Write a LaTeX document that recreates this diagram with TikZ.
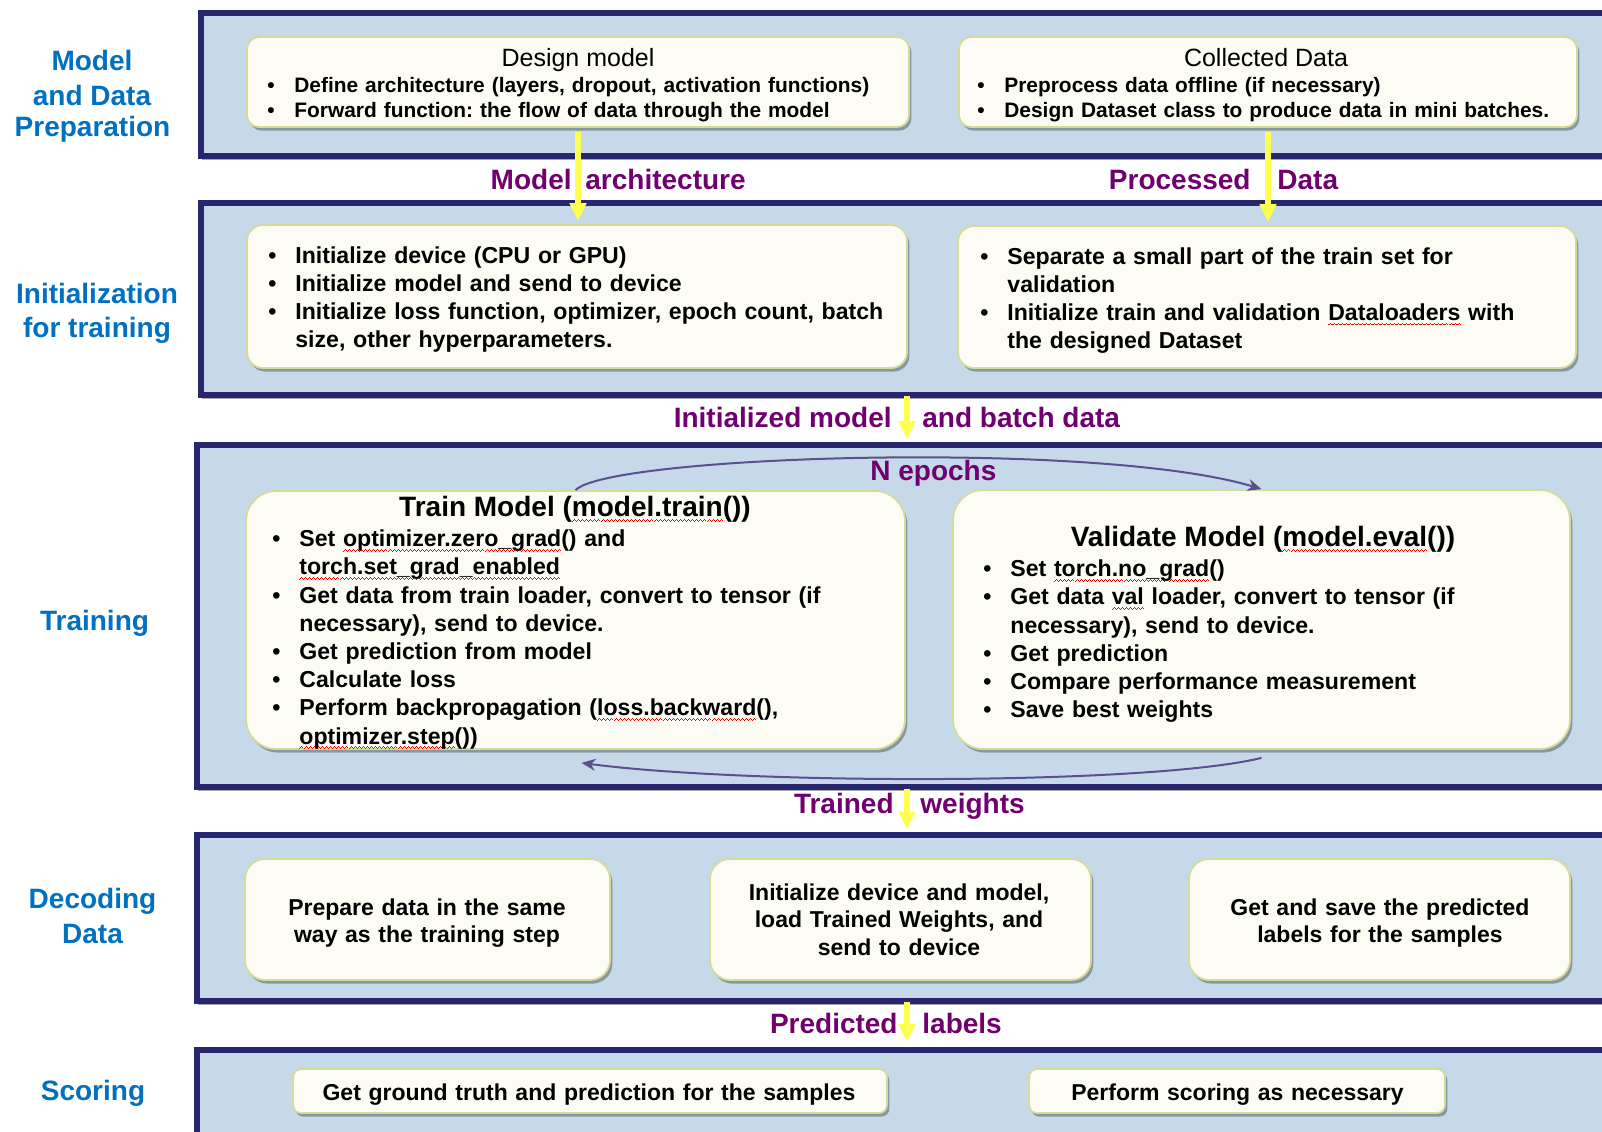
\documentclass[tikz,border=0pt]{standalone}
\usepackage{fontspec}
\setmainfont{Liberation Sans}
\usetikzlibrary{arrows.meta,shadows,fit}
\definecolor{panelfill}{HTML}{C5D9E8}
\definecolor{paneledge}{HTML}{28266E}
\definecolor{boxfill}{HTML}{FCFCF5}
\definecolor{boxedge}{HTML}{D4DC9C}
\definecolor{lblue}{HTML}{0070C0}
\definecolor{lpurple}{HTML}{700070}
\definecolor{yarr}{HTML}{FFFF50}
\definecolor{loopc}{HTML}{5A508C}
\frenchspacing
\newsavebox\sqbox
\newcommand\squig[1]{\sbox\sqbox{#1}\rlap{\color{red}\hbox to\wd\sqbox{\xleaders\hbox{\rule[-2.5pt]{0.5pt}{0.5pt}\rule[-2.05pt]{0.5pt}{0.5pt}\rule[-1.6pt]{0.5pt}{0.5pt}\rule[-2.05pt]{0.5pt}{0.5pt}}\hfill}}\usebox\sqbox}
\newcommand\bul{\makebox[13.5pt][l]{\textbullet}}
\newcommand\cind{\hspace*{13.5pt}}
\begin{document}
\begin{tikzpicture}[x=0.5pt,y=-0.5pt,
 panel/.style={draw=paneledge, line width=3pt, fill=panelfill, inner sep=0pt,
   drop shadow={shadow xshift=0.5pt, shadow yshift=-2pt, opacity=0.35, fill=black}},
 box/.style={draw=boxedge, line width=0.9pt, fill=boxfill, inner sep=0pt,
   drop shadow={shadow xshift=1.2pt, shadow yshift=-1.8pt, opacity=0.3, fill=black}},
 btxt/.style={inner sep=0pt, anchor=base west, align=left, text width=340pt,
   font=\bfseries\fontsize{11.55pt}{14.1pt}\selectfont},
 ctxt/.style={inner sep=0pt, anchor=base, align=center, text width=185pt,
   font=\bfseries\fontsize{11.5pt}{13.9pt}\selectfont},
 titlelab/.style={inner sep=0pt, anchor=base, font=\fontsize{12.5pt}{15pt}\selectfont},
 bigtitle/.style={inner sep=0pt, anchor=base, font=\bfseries\fontsize{14pt}{17pt}\selectfont},
 sidelab/.style={inner sep=0pt, anchor=base, text=lblue, font=\bfseries\fontsize{14pt}{17pt}\selectfont},
 flowlab/.style={inner sep=0pt, text=lpurple, font=\bfseries\fontsize{14pt}{17pt}\selectfont},
 yarrow/.style={draw=yarr, line width=2.6pt, -{Triangle[length=9pt,width=8pt]}},
 loopar/.style={draw=loopc, line width=1pt, -{Stealth[length=7pt,width=6pt]}}
]
\useasboundingbox (0,0) rectangle (1602,1131);
\clip (0,0) rectangle (1602,1131);
\fill[white] (0,0) rectangle (1602,1131);

% panels
\node[panel, fit={(201,13) (1700,156)}] (p1) {};
\node[panel, fit={(201,203) (1700,395)}] (p2) {};
\node[panel, fit={(197,445) (1700,787)}] (p3) {};
\node[panel, fit={(197,835) (1700,1001)}] (p4) {};
\node[panel, fit={(197,1050) (1700,1250)}] (p5) {};

% side labels
\node[sidelab] (s1a) at (92,70.7) {Model};
\node[sidelab] (s1b) at (92,105) {and Data};
\node[sidelab] (s1c) at (92.5,136) {Preparation};
\node[sidelab] (s2a) at (97,303) {Initialization};
\node[sidelab] (s2b) at (97,337) {for training};
\node[sidelab] (s3) at (94.5,630) {Training};
\node[sidelab] (s4a) at (92.5,908) {Decoding};
\node[sidelab] (s4b) at (92.5,943) {Data};
\node[sidelab] (s5) at (93,1100) {Scoring};

% boxes
\node[box, rounded corners=6pt, fit={(247,37) (909,127)}] (dm) {};
\node[box, rounded corners=6pt, fit={(959,37) (1577,127)}] (cd) {};
\node[box, rounded corners=8pt, fit={(247,225) (907,368)}] (init1) {};
\node[box, rounded corners=8pt, fit={(958,226) (1576,368)}] (init2) {};
\node[box, rounded corners=15pt, fit={(246,491) (905,749)}] (train) {};
\node[box, rounded corners=15pt, fit={(953,490) (1570,749)}] (val) {};
\node[box, rounded corners=10pt, fit={(245,859) (610,980)}] (dec1) {};
\node[box, rounded corners=10pt, fit={(710,859) (1091,980)}] (dec2) {};
\node[box, rounded corners=10pt, fit={(1189,859) (1570,980)}] (dec3) {};
\node[box, rounded corners=4pt, fit={(293,1069) (887,1113)}] (sc1) {};
\node[box, rounded corners=4pt, fit={(1029,1069) (1445,1113)}] (sc2) {};

% box texts
\node[titlelab] (dmt) at (578,66.7) {Design model};
\node[btxt, font=\bfseries\fontsize{10.45pt}{12.3pt}\selectfont] (dmb) at (267,92.7)
 {\bul Define architecture (layers, dropout, activation functions)\\
  \bul Forward function: the flow of data through the model};
\node[titlelab] (cdt) at (1266,66.7) {Collected Data};
\node[btxt, font=\bfseries\fontsize{10.45pt}{12.3pt}\selectfont] (cdb) at (977,92.7)
 {\bul Preprocess data offline (if necessary)\\
  \bul Design Dataset class to produce data in mini batches.};

\node[btxt] (i1b) at (268,263.3)
 {\bul Initialize device (CPU or GPU)\\
  \bul Initialize model and send to device\\
  \bul Initialize loss function, optimizer, epoch count, batch\\
  \cind size, other hyperparameters.};
\node[btxt] (i2b) at (980,264)
 {\bul Separate a small part of the train set for\\
  \cind validation\\
  \bul Initialize train and validation \squig{Dataloaders} with\\
  \cind the designed Dataset};

\node[bigtitle] (trt) at (575,516.7) {Train Model (\squig{model.train}())};
\node[btxt] (trb) at (272,546.7)
 {\bul Set \squig{optimizer.zero\_grad}() and\\
  \cind \squig{torch.set\_grad\_enabled}\\
  \bul Get data from train loader, convert to tensor (if\\
  \cind necessary), send to device.\\
  \bul Get prediction from model\\
  \bul Calculate loss\\
  \bul Perform backpropagation (\squig{loss.backward}(),\\
  \cind \squig{optimizer.step}())};
\node[bigtitle] (vat) at (1263,546.7) {Validate Model (\squig{model.eval}())};
\node[btxt] (vab) at (983,576.7)
 {\bul Set \squig{torch.no\_grad}()\\
  \bul Get data \squig{val} loader, convert to tensor (if\\
  \cind necessary), send to device.\\
  \bul Get prediction\\
  \bul Compare performance measurement\\
  \bul Save best weights};

\node[ctxt] (d1t) at (427,915) {Prepare data in the same\\way as the training step};
\node[ctxt] (d2t) at (899,900) {Initialize device and model,\\load Trained Weights, and\\send to device};
\node[ctxt] (d3t) at (1380,915) {Get and save the predicted\\labels for the samples};
\node[ctxt, text width=300pt] (sc1t) at (589,1100.7) {Get ground truth and prediction for the samples};
\node[ctxt, text width=300pt] (sc2t) at (1237.5,1100.7) {Perform scoring as necessary};

% flow labels
\node[flowlab, anchor=base east] (fa1) at (572,189) {Model};
\node[flowlab, anchor=base west] (fa2) at (585,189) {architecture};
\node[flowlab, anchor=base east] (fb1) at (1251,189) {Processed};
\node[flowlab, anchor=base west] (fb2) at (1277,189) {Data};
\node[flowlab, anchor=base east] (fc1) at (892,427) {Initialized model};
\node[flowlab, anchor=base west] (fc2) at (922,427) {and batch data};
\node[flowlab, anchor=base east] (fd1) at (894,813) {Trained};
\node[flowlab, anchor=base west] (fd2) at (920,813) {weights};
\node[flowlab, anchor=base east] (fe1) at (898,1033) {Predicted};
\node[flowlab, anchor=base west] (fe2) at (922,1033) {labels};
\node[flowlab, anchor=base west] (ne) at (870,480) {N epochs};

% yellow arrows
\draw[yarrow, shorten <=2pt, shorten >=1.5pt] (dm.south) -- (dm.south |- init1.north);
\draw[yarrow, shorten <=2pt, shorten >=1.5pt] (cd.south) -- (cd.south |- init2.north);
\coordinate (c3) at (907,396);
\draw[yarrow, shorten >=1.5pt] (c3) -- (c3 |- p3.north);
\coordinate (c4) at (907,789);
\draw[yarrow, shorten >=1.2pt] (c4) -- (c4 |- p4.north);
\coordinate (c5) at (907,1002);
\draw[yarrow, shorten >=2.5pt] (c5) -- (c5 |- p5.north);

% epoch loop
\draw[loopar] (train.north) .. controls (610,455) and (1100,440) .. (val.north);
\draw[loopar] ([yshift=-4pt]val.south) .. controls (1150,785) and (750,785) .. ([xshift=3pt,yshift=-6.5pt]train.south);
\end{tikzpicture}
\end{document}
